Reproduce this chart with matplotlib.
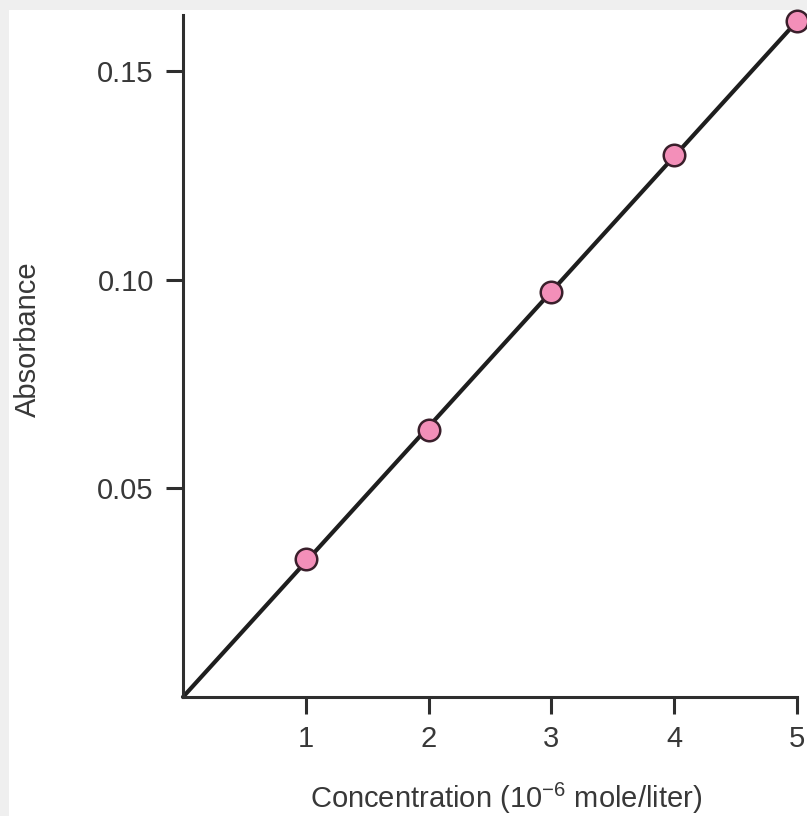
import numpy as np
import matplotlib.pyplot as plt
from matplotlib.patches import Rectangle

# data
concentration = [1, 2, 3, 4, 5]
absorbance = [0.033, 0.064, 0.097, 0.130, 0.162]
x_ticks = [1, 2, 3, 4, 5]
y_ticks = [0.05, 0.10, 0.15]
y_tick_labels = ["0.05", "0.10", "0.15"]

plt.rcParams['font.family'] = ['Liberation Sans', 'DejaVu Sans']
plt.rcParams['mathtext.fontset'] = 'custom'
plt.rcParams['mathtext.rm'] = 'Liberation Sans'
plt.rcParams['mathtext.default'] = 'rm'
dark = "#2e2e2e"
text_col = "#383838"

fig = plt.figure(figsize=(8.07, 8.16), dpi=100, facecolor="#efefef")
# white panel inside the grey border
fig.patches.append(Rectangle((9 / 807, 0), 1, 1 - 10 / 816, transform=fig.transFigure,
                             facecolor="white", edgecolor="none", zorder=-5))

ax = fig.add_axes([183 / 807, 1 - 697 / 816, (797 - 183) / 807, (697 - 15) / 816])
ax.set_facecolor("none")
ax.set_zorder(2)

# fitted line through the origin
slope = np.sum(np.array(concentration) * np.array(absorbance)) / np.sum(np.array(concentration) ** 2)
xfit = np.array([0, max(concentration)])
ax.plot(xfit, slope * xfit, color="#1e1e1e", lw=3.0, solid_capstyle="round", zorder=2,
        clip_on=False)
ax.plot(concentration, absorbance, "o", ms=15.5, mfc="#f38fb9", mec="#3a1f2b", mew=1.8,
        zorder=3, clip_on=False)

ax.set_xlim(0, 5)
ax.set_ylim(0, 0.1635)
ax.set_xticks(x_ticks)
ax.set_yticks(y_ticks)
ax.set_yticklabels(y_tick_labels)

for side in ["top", "right"]:
    ax.spines[side].set_visible(False)
for side in ["left", "bottom"]:
    ax.spines[side].set_linewidth(2.2)
    ax.spines[side].set_color(dark)

ax.tick_params(axis="both", direction="out", length=12, width=2.2, color=dark,
               labelsize=21, labelcolor=text_col)
ax.tick_params(axis="x", pad=8)
ax.tick_params(axis="y", pad=9)

ax.set_xlabel("Concentration (10$^{-6}$ mole/liter)", fontsize=21, color=text_col)
ax.xaxis.set_label_coords((506 - 183) / (797 - 183), -(781 - 697) / (697 - 15))
ax.set_ylabel("Absorbance", fontsize=21, color=text_col)
ax.yaxis.set_label_coords(-(183 - 42) / (797 - 183), (697 - 339) / (697 - 15))

fig.savefig("out.png", dpi=100, facecolor=fig.get_facecolor())
